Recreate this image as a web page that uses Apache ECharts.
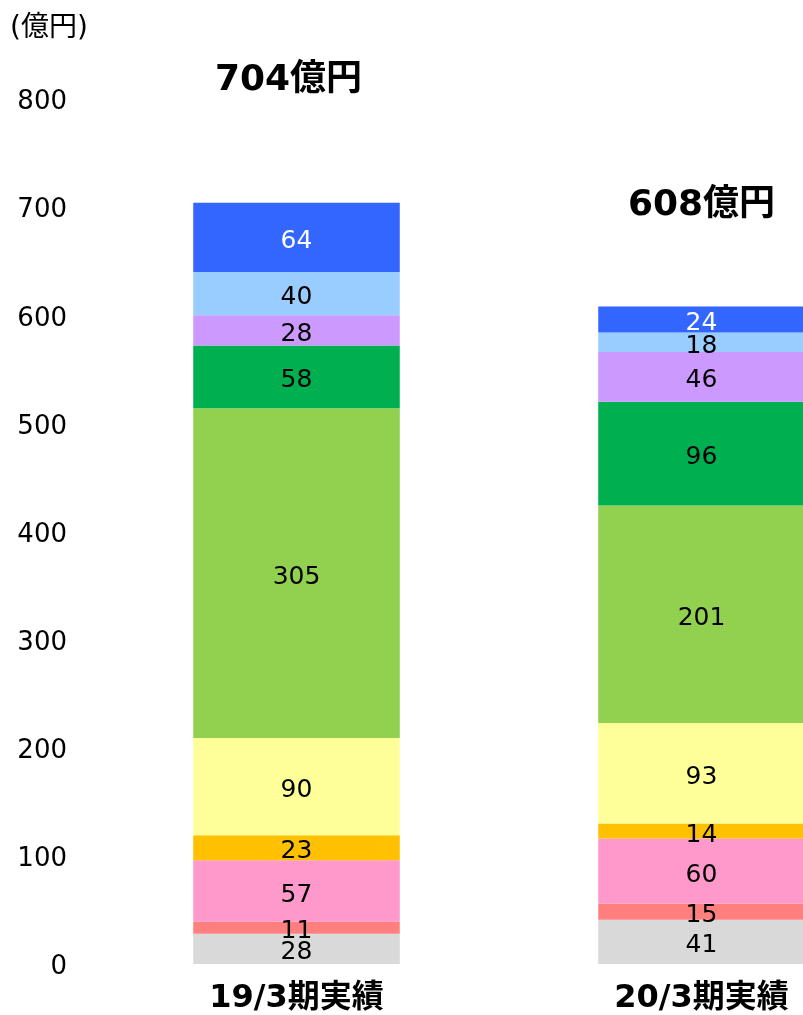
<!DOCTYPE html>
<html>
<head>
<meta charset="utf-8">
<script src="https://cdn.jsdelivr.net/npm/echarts@6/dist/echarts.min.js"></script>
<style>
  html, body { margin: 0; padding: 0; background: #fff; overflow: hidden; }
  #main { width: 904px; height: 1015px; }
</style>
</head>
<body>
<div id="main"></div>
<script>
  // 区分（下から上へ）
  var categories = ['19/3期実績', '20/3期実績'];
  var seriesNames = ['s1', 's2', 's3', 's4', 's5', 's6', 's7', 's8', 's9', 's10'];
  var seriesColors = ['#D9D9D9', '#FF7F7F', '#FF99CC', '#FFC000', '#FFFF99',
                      '#92D050', '#00B050', '#CC99FF', '#99CCFF', '#3366FF'];
  var values19 = [28, 11, 57, 23, 90, 305, 58, 28, 40, 64];
  var values20 = [41, 15, 60, 14, 93, 201, 96, 46, 18, 24];
  var totalGap = [104, 83];
  var totalShift = [-8, 0];

  var font = 'DejaVu Sans, "Noto Sans CJK JP", sans-serif';
  var chart = echarts.init(document.getElementById('main'));

  var series = seriesNames.map(function (name, i) {
    return {
      name: name,
      type: 'bar',
      stack: 'total',
      barWidth: '51%',
      itemStyle: { color: seriesColors[i] },
      label: {
        show: true,
        position: 'inside',
        offset: [0, 4],
        color: i === 9 ? '#fff' : '#000',
        fontSize: 25,
        fontFamily: font
      },
      data: [values19[i], values20[i]]
    };
  });

  var totals = [values19, values20].map(function (arr) {
    return arr.reduce(function (a, b) { return a + b; }, 0);
  });

  //合計ラベル
  series.push({
    type: 'scatter',
    symbolSize: 0,
    silent: true,
    itemStyle: { opacity: 1 },
    data: totals.map(function (t, i) {
      return {
        value: [i, t],
        label: { distance: totalGap[i], offset: [totalShift[i], 0] }
      };
    }),
    label: {
      show: true,
      position: 'top',
      formatter: function (p) { return p.value[1] + '億円'; },
      color: '#000',
      fontSize: 36,
      fontWeight: 'bold',
      fontFamily: font
    },
    z: 10
  });

  var option = {
    animation: false,
    graphic: [{
      type: 'text',
      left: 10,
      top: 15,
      style: { text: '(億円)', fill: '#000', font: '28px ' + font }
    }],
    grid: { left: 94, width: 810, top: 99, bottom: 50 },
    xAxis: {
      type: 'category',
      data: categories,
      axisLine: { show: false },
      axisTick: { show: false },
      axisLabel: {
        color: '#000',
        fontSize: 32,
        fontWeight: 'bold',
        fontFamily: font,
        margin: 19
      }
    },
    yAxis: {
      type: 'value',
      min: 0,
      max: 800,
      interval: 100,
      axisLine: { show: false },
      axisTick: { show: false },
      splitLine: { show: false },
      axisLabel: {
        color: '#000',
        fontSize: 26,
        fontFamily: font,
        margin: 27,
        formatter: '{v|{value}}',
        rich: {
          v: { fontSize: 26, fontFamily: font, color: '#000', padding: [7, 0, 0, 0] }
        }
      }
    },
    series: series
  };
  chart.setOption(option);
</script>
</body>
</html>
